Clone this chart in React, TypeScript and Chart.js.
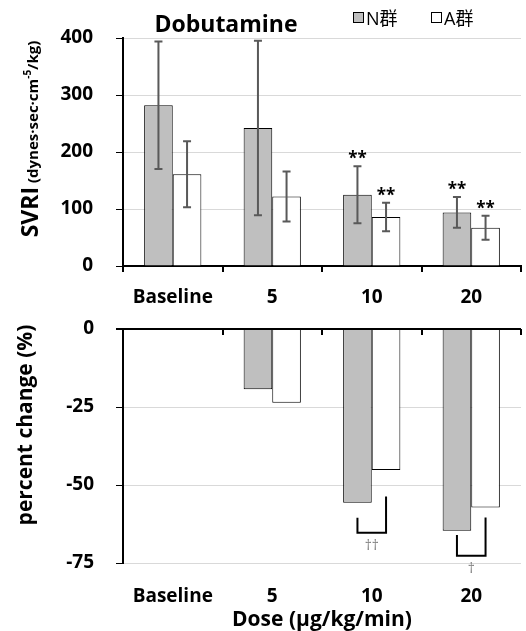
import React, { useEffect, useRef } from 'react';
import { Chart, registerables } from 'chart.js';
Chart.register(...registerables);

const FONT = "'Open Sans', 'Noto Sans CJK JP', sans-serif";

const chartTitle = 'Dobutamine';
const seriesNames = ['N群', 'A群'];
const categories = ['Baseline', '5', '10', '20'];
const svriN = [282, 242, 125, 94];
const svriNsd = [112, 153, 50, 27];
const svriA = [161, 122, 86, 67];
const svriAsd = [58, 44, 25, 21];
const sigN = ['', '', '**', '**'];
const sigA = ['', '', '**', '**'];
const svriTicks = [0, 100, 200, 300, 400];
const pctN = [null, -19.3, -55.7, -64.7];
const pctA = [null, -23.6, -45.2, -57.2];
const pctTicks = [0, -25, -50, -75];
const bracketCats = [2, 3];
const bracketLeftTop = [-60.5, -66];
const bracketRightTop = [-53.7, -60.4];
const bracketBottom = [-65.3, -72.7];
const bracketLabels = ['††', '†'];
const yTitleTop = ['SVRI', ' (dynes·sec·cm', '-5', '/kg)'];
const yTitleBottom = 'percent change (%)';
const xTitle = 'Dose (µg/kg/min)';

const N_COLOR = '#bfbfbf';
const A_COLOR = '#ffffff';

type Run = { text: string; font: string; dy: number };

function drawRotatedRuns(ctx: CanvasRenderingContext2D, runs: Run[], bx: number, cy: number) {
  ctx.save();
  ctx.translate(bx, cy);
  ctx.rotate(-Math.PI / 2);
  ctx.fillStyle = '#000';
  ctx.textBaseline = 'alphabetic';
  ctx.textAlign = 'left';
  const widths = runs.map((r) => {
    ctx.font = r.font;
    return ctx.measureText(r.text).width;
  });
  const total = widths.reduce((a, b) => a + b, 0);
  let x = -total / 2;
  runs.forEach((r, i) => {
    ctx.font = r.font;
    ctx.fillText(r.text, x, r.dy);
    x += widths[i];
  });
  ctx.restore();
}

const topPlugin = {
  id: 'topDecor',
  afterDatasetsDraw(chart: any) {
    const ctx = chart.ctx as CanvasRenderingContext2D;
    const y = chart.scales.y;
    const sets: [number, number[], number[], string[]][] = [
      [0, svriN, svriNsd, sigN],
      [1, svriA, svriAsd, sigA],
    ];
    sets.forEach(([di, vals, sds, sig]) => {
      const meta = chart.getDatasetMeta(di);
      meta.data.forEach((bar: any, i: number) => {
        const x = bar.x;
        const top = y.getPixelForValue(vals[i] + sds[i]);
        const bot = y.getPixelForValue(vals[i] - sds[i]);
        ctx.save();
        ctx.strokeStyle = '#595959';
        ctx.lineWidth = 2;
        ctx.beginPath();
        ctx.moveTo(x, top);
        ctx.lineTo(x, bot);
        ctx.moveTo(x - 4, top);
        ctx.lineTo(x + 4, top);
        ctx.moveTo(x - 4, bot);
        ctx.lineTo(x + 4, bot);
        ctx.stroke();
        if (sig[i]) {
          ctx.fillStyle = '#000';
          ctx.font = `bold 17px ${FONT}`;
          ctx.textAlign = 'center';
          ctx.textBaseline = 'alphabetic';
          ctx.fillText(sig[i], x, top - 2);
        }
        ctx.restore();
      });
    });
  },
  afterDraw(chart: any) {
    const ctx = chart.ctx as CanvasRenderingContext2D;
    ctx.save();
    ctx.fillStyle = '#000';
    ctx.font = `bold 23px ${FONT}`;
    ctx.textAlign = 'center';
    ctx.textBaseline = 'alphabetic';
    ctx.fillText(chartTitle, 226, 32);
    const lx = [353, 431];
    const colors = [N_COLOR, A_COLOR];
    ctx.font = `18px ${FONT}`;
    ctx.textAlign = 'left';
    seriesNames.forEach((name, i) => {
      ctx.fillStyle = colors[i];
      ctx.fillRect(lx[i], 12, 11, 11);
      ctx.strokeStyle = '#000';
      ctx.lineWidth = 1;
      ctx.strokeRect(lx[i] + 0.5, 12.5, 10, 10);
      ctx.fillStyle = '#000';
      ctx.fillText(name, lx[i] + 13, 25);
    });
    ctx.restore();
    drawRotatedRuns(
      ctx,
      [
        { text: yTitleTop[0], font: `bold 23px ${FONT}`, dy: 0 },
        { text: yTitleTop[1], font: `bold 15px ${FONT}`, dy: 0 },
        { text: yTitleTop[2], font: `bold 10px ${FONT}`, dy: -7 },
        { text: yTitleTop[3], font: `bold 15px ${FONT}`, dy: 0 },
      ],
      38,
      139
    );
  },
};

const bottomPlugin = {
  id: 'bottomDecor',
  afterDatasetsDraw(chart: any) {
    const ctx = chart.ctx as CanvasRenderingContext2D;
    const x = chart.scales.x;
    const y = chart.scales.y;
    const y0 = y.getPixelForValue(0);
    ctx.save();
    ctx.strokeStyle = '#000';
    ctx.lineWidth = 2;
    ctx.beginPath();
    for (let i = 1; i <= categories.length; i++) {
      const px = Math.round(x.getPixelForValue(i - 0.5));
      ctx.moveTo(px, y0);
      ctx.lineTo(px, y0 + 6);
    }
    ctx.stroke();
    bracketCats.forEach((ci, k) => {
      const xl = chart.getDatasetMeta(0).data[ci].x;
      const xr = chart.getDatasetMeta(1).data[ci].x;
      const yl = y.getPixelForValue(bracketLeftTop[k]);
      const yr = y.getPixelForValue(bracketRightTop[k]);
      const yb = y.getPixelForValue(bracketBottom[k]);
      ctx.strokeStyle = '#000';
      ctx.lineWidth = 2;
      ctx.beginPath();
      ctx.moveTo(xl, yl);
      ctx.lineTo(xl, yb);
      ctx.lineTo(xr, yb);
      ctx.lineTo(xr, yr);
      ctx.stroke();
      ctx.fillStyle = '#7f7f7f';
      ctx.font = `14px ${FONT}`;
      ctx.textAlign = 'center';
      ctx.textBaseline = 'alphabetic';
      ctx.fillText(bracketLabels[k], (xl + xr) / 2, yb + 17);
    });
    ctx.restore();
  },
  afterDraw(chart: any) {
    drawRotatedRuns(chart.ctx, [{ text: yTitleBottom, font: `bold 21px ${FONT}`, dy: 0 }], 32, 115);
  },
};

const tickFont = { family: FONT, size: 19, weight: 'bold' as const };
const yTickFont = { family: FONT, size: 19, weight: 'bold' as const };

export default function App() {
  const topRef = useRef<HTMLCanvasElement>(null);
  const botRef = useRef<HTMLCanvasElement>(null);

  useEffect(() => {
    const top = new Chart(topRef.current!, {
      type: 'bar',
      data: {
        labels: categories,
        datasets: [
          { label: seriesNames[0], data: svriN, backgroundColor: N_COLOR, borderColor: '#000', borderWidth: 1 },
          { label: seriesNames[1], data: svriA, backgroundColor: A_COLOR, borderColor: '#000', borderWidth: 1 },
        ],
      },
      options: {
        responsive: false,
        animation: false,
        layout: { padding: { left: 0, right: 5, top: 38, bottom: 0 } },
        plugins: { legend: { display: false }, tooltip: { enabled: false }, title: { display: false } },
        datasets: { bar: { categoryPercentage: 0.575, barPercentage: 1 } },
        scales: {
          x: {
            grid: { display: true, drawOnChartArea: false, drawTicks: true, tickLength: 6, color: '#000', lineWidth: 2, offset: true },
            border: { display: true, color: '#000', width: 2 },
            ticks: { color: '#000', font: tickFont, padding: 14, maxRotation: 0 },
            afterFit: (s: any) => { s.height = 44; },
          },
          y: {
            min: 0,
            max: 400,
            afterBuildTicks: (s: any) => { s.ticks = svriTicks.map((v) => ({ value: v })); },
            ticks: { color: '#000', font: yTickFont, padding: 23 },
            grid: { color: '#d9d9d9', lineWidth: 1, tickColor: '#000', tickLength: 7, drawTicks: true },
            border: { display: true, color: '#000', width: 2 },
            afterFit: (s: any) => { s.width = 123; s.paddingTop = 0; s.paddingBottom = 0; },
          },
        },
      },
      plugins: [topPlugin],
    } as any);

    const bot = new Chart(botRef.current!, {
      type: 'bar',
      data: {
        labels: categories,
        datasets: [
          { label: seriesNames[0], data: pctN, backgroundColor: N_COLOR, borderColor: '#000', borderWidth: 1 },
          { label: seriesNames[1], data: pctA, backgroundColor: A_COLOR, borderColor: '#000', borderWidth: 1 },
        ],
      },
      options: {
        responsive: false,
        animation: false,
        layout: { padding: { left: 0, right: 5, top: 19, bottom: 0 } },
        plugins: { legend: { display: false }, tooltip: { enabled: false }, title: { display: false } },
        datasets: { bar: { categoryPercentage: 0.575, barPercentage: 1 } },
        scales: {
          x: {
            grid: { display: false, drawTicks: false },
            border: { display: false },
            ticks: { color: '#000', font: tickFont, padding: 22, maxRotation: 0 },
            title: { display: true, text: xTitle, color: '#000', font: { family: FONT, size: 21, weight: 'bold', lineHeight: 1 }, padding: { top: 0, bottom: 0 } },
            afterFit: (s: any) => { s.height = 68; },
          },
          y: {
            min: -75,
            max: 0,
            afterBuildTicks: (s: any) => { s.ticks = pctTicks.map((v) => ({ value: v })); },
            ticks: { color: '#000', font: yTickFont, padding: 22 },
            grid: {
              color: (c: any) => (c.tick && c.tick.value === 0 ? '#000' : '#d9d9d9'),
              lineWidth: (c: any) => (c.tick && c.tick.value === 0 ? 2 : 1),
              tickColor: '#000',
              tickLength: 7,
              drawTicks: true,
            },
            border: { display: true, color: '#000', width: 2 },
            afterFit: (s: any) => { s.width = 123; s.paddingTop = 0; s.paddingBottom = 0; },
          },
        },
      },
      plugins: [bottomPlugin],
    } as any);

    return () => {
      top.destroy();
      bot.destroy();
    };
  }, []);

  return (
    <div style={{ position: 'absolute', left: 0, top: 0, width: 526, height: 631, background: '#fff' }}>
      <canvas ref={topRef} width={526} height={310} style={{ position: 'absolute', left: 0, top: 0, display: 'block' }} />
      <canvas ref={botRef} width={526} height={321} style={{ position: 'absolute', left: 0, top: 310, display: 'block' }} />
    </div>
  );
}
